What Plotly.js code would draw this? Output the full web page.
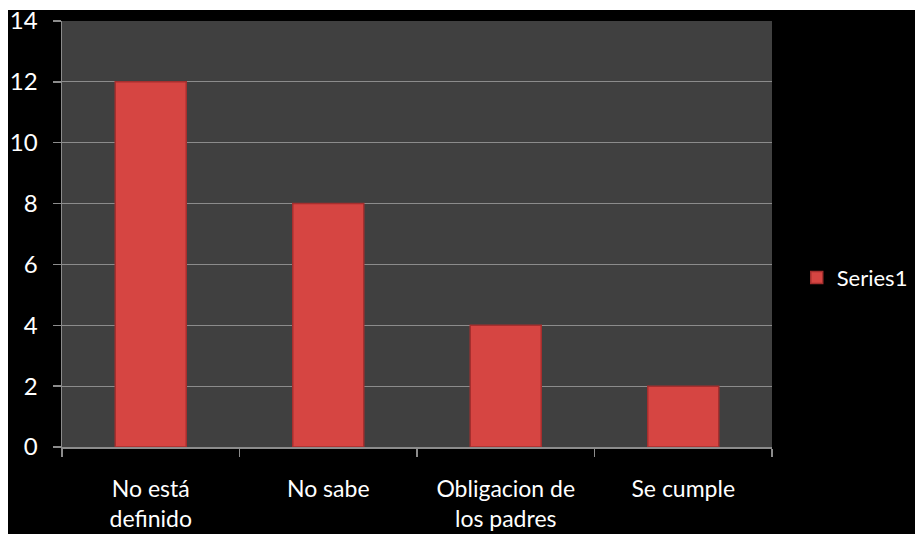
<!DOCTYPE html>
<html><head><meta charset="utf-8">
<script src="https://cdn.plot.ly/plotly-3.0.1.min.js"></script>
<style>
html,body{margin:0;padding:0;background:#ffffff;width:915px;height:534px;overflow:hidden}
#chart{position:absolute;left:8px;top:10px;width:907px;height:524px}
</style></head><body>
<div id="chart"></div>
<script>
const categories = ["No está<br>definido", "No sabe", "Obligacion de<br>los padres", "Se cumple"];
const values = [12, 8, 4, 2];
const seriesName = "Series1";
const yTicks = [0, 2, 4, 6, 8, 10, 12, 14];

const trace = {
  type: 'bar', x: categories, y: values, name: seriesName,
  marker: {color: '#d64542', line: {color: '#a52f2e', width: 1.5}},
  showlegend: true, hoverinfo: 'none'
};
const layout = {
  width: 907, height: 524,
  paper_bgcolor: '#000000', plot_bgcolor: '#404040',
  margin: {l: 54, r: 143, t: 11, b: 87, autoexpand: false},
  bargap: 0.6,
  font: {family: 'Lato, "Open Sans", sans-serif', color: '#ffffff', size: 23},
  xaxis: {
    type: 'category', showgrid: false, showline: true, linecolor: '#8c8c8c', linewidth: 1.5,
    ticks: 'outside', tickson: 'boundaries', ticklen: 8, tickcolor: '#8c8c8c', tickwidth: 1.5,
    tickfont: {size: 23, color: '#ffffff'}, ticklabelstandoff: 21, fixedrange: true,
    automargin: false
  },
  yaxis: {
    range: [0, 14], tickvals: yTicks, ticktext: yTicks.map(String),
    showgrid: true, gridcolor: '#8c8c8c', gridwidth: 1.2, zeroline: false,
    showline: true, linecolor: '#8c8c8c', linewidth: 1.5,
    ticks: 'outside', ticklen: 8, tickcolor: '#8c8c8c', tickwidth: 1.5,
    tickfont: {size: 24, color: '#ffffff'}, ticklabelstandoff: 10, ticklabeloverflow: 'allow',
    fixedrange: true, automargin: false
  },
  legend: {xref: 'container', yref: 'container', x: 0.8696, y: 0.489, xanchor: 'left', yanchor: 'middle',
           font: {size: 22, color: '#ffffff'}, bgcolor: 'rgba(0,0,0,0)', itemwidth: 30}
};
Plotly.newPlot('chart', [trace], layout, {displayModeBar: false, staticPlot: true});
</script></body></html>
